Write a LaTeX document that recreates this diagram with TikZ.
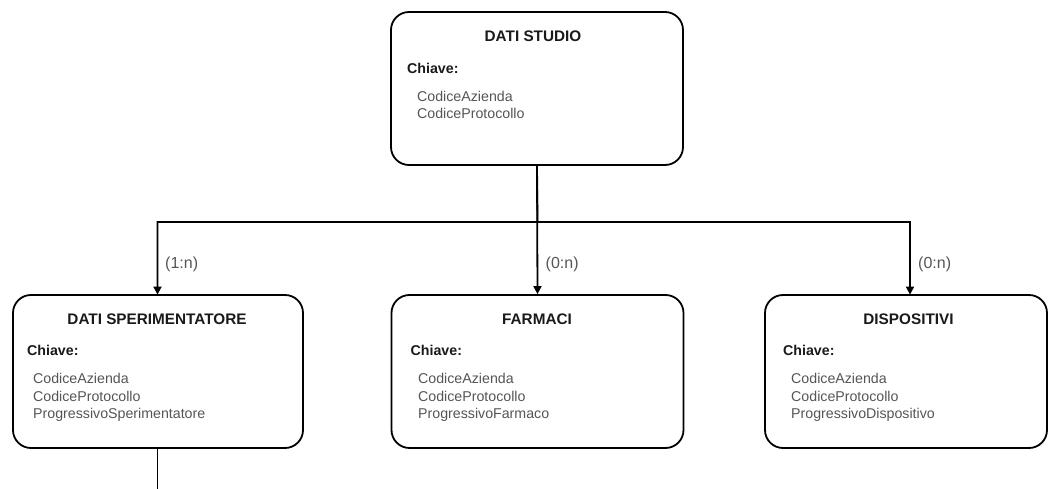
\documentclass[tikz,border=0pt]{standalone}
\usepackage{fontspec}
\setmainfont{Liberation Sans}
\usetikzlibrary{arrows.meta,calc}
\definecolor{itemgrey}{HTML}{555555}
\definecolor{titleblack}{HTML}{1A1A1A}
\tikzset{
  entity/.style={draw=black, line width=1.8bp, rounded corners=18bp, fill=white, inner sep=0pt},
  titletext/.style={anchor=base, inner sep=0pt, text=titleblack, font=\fontsize{15.3bp}{18bp}\selectfont\bfseries},
  keytext/.style={anchor=base west, inner sep=0pt, text=titleblack, font=\fontsize{14.2bp}{17bp}\selectfont\bfseries},
  itemtext/.style={anchor=base west, inner sep=0pt, text=itemgrey, font=\fontsize{14.2bp}{17bp}\selectfont},
  cardtext/.style={anchor=west, inner sep=0pt, text=itemgrey, font=\fontsize{16bp}{19bp}\selectfont},
  conn/.style={draw=black, line width=1.8bp},
  arr/.style={conn, -{Triangle[length=8bp,width=8bp]}},
}
\begin{document}
\begin{tikzpicture}[x=1bp,y=-1bp]
\useasboundingbox (0,0) rectangle (1049,489);
% boxes
\node[entity, minimum width=292bp, minimum height=153bp] (top) at (537,88.5) {};
\node[entity, minimum width=290bp, minimum height=153bp] (left) at (158,371.5) {};
\node[entity, minimum width=292bp, minimum height=153bp] (mid) at (537.5,371.5) {};
\node[entity, minimum width=282bp, minimum height=153bp] (right) at (906,371.5) {};
% top box text
\node[titletext] (t1) at (533,42) {DATI STUDIO};
\node[keytext] (k1) at (407,74) {Chiave:};
\node[itemtext] (a1) at (417,101.5) {CodiceAzienda};
\node[itemtext] (b1) at (417,119) {CodiceProtocollo};
% left box text
\node[titletext] (t2) at (157,324.8) {DATI SPERIMENTATORE};
\node[keytext] (k2) at (27,355.5) {Chiave:};
\node[itemtext] (a2) at (33,383.5) {CodiceAzienda};
\node[itemtext] (b2) at (33,401) {CodiceProtocollo};
\node[itemtext] (c2) at (33,418.5) {ProgressivoSperimentatore};
% middle box text
\node[titletext] (t3) at (537,324.8) {FARMACI};
\node[keytext] (k3) at (410.5,355.5) {Chiave:};
\node[itemtext] (a3) at (418,383.5) {CodiceAzienda};
\node[itemtext] (b3) at (418,401) {CodiceProtocollo};
\node[itemtext] (c3) at (418,418.5) {ProgressivoFarmaco};
% right box text
\node[titletext] (t4) at (908.5,324.8) {DISPOSITIVI};
\node[keytext] (k4) at (783,355.5) {Chiave:};
\node[itemtext] (a4) at (791,383.5) {CodiceAzienda};
\node[itemtext] (b4) at (791,401) {CodiceProtocollo};
\node[itemtext] (c4) at (791,418.5) {ProgressivoDispositivo};
% connectors
\coordinate (bus) at (537.5,222);
\coordinate (rightin) at (910,294.6);
\coordinate (leftin) at (157.5,294.6);
\coordinate (down) at (157.5,489);
\draw[arr] (top.south) -- (mid.north);
\draw[arr] (top.south) -- (bus) -| (leftin);
\draw[arr] (bus) -| (rightin);
\draw[conn] (left.south -| leftin) -- (down);
% cardinalities
\node[cardtext] (l1) at (165,264) {(1:n)};
\node[cardtext] (l2) at (545.5,264) {(0:n)};
\node[cardtext] (l3) at (918,264) {(0:n)};
\end{tikzpicture}
\end{document}
